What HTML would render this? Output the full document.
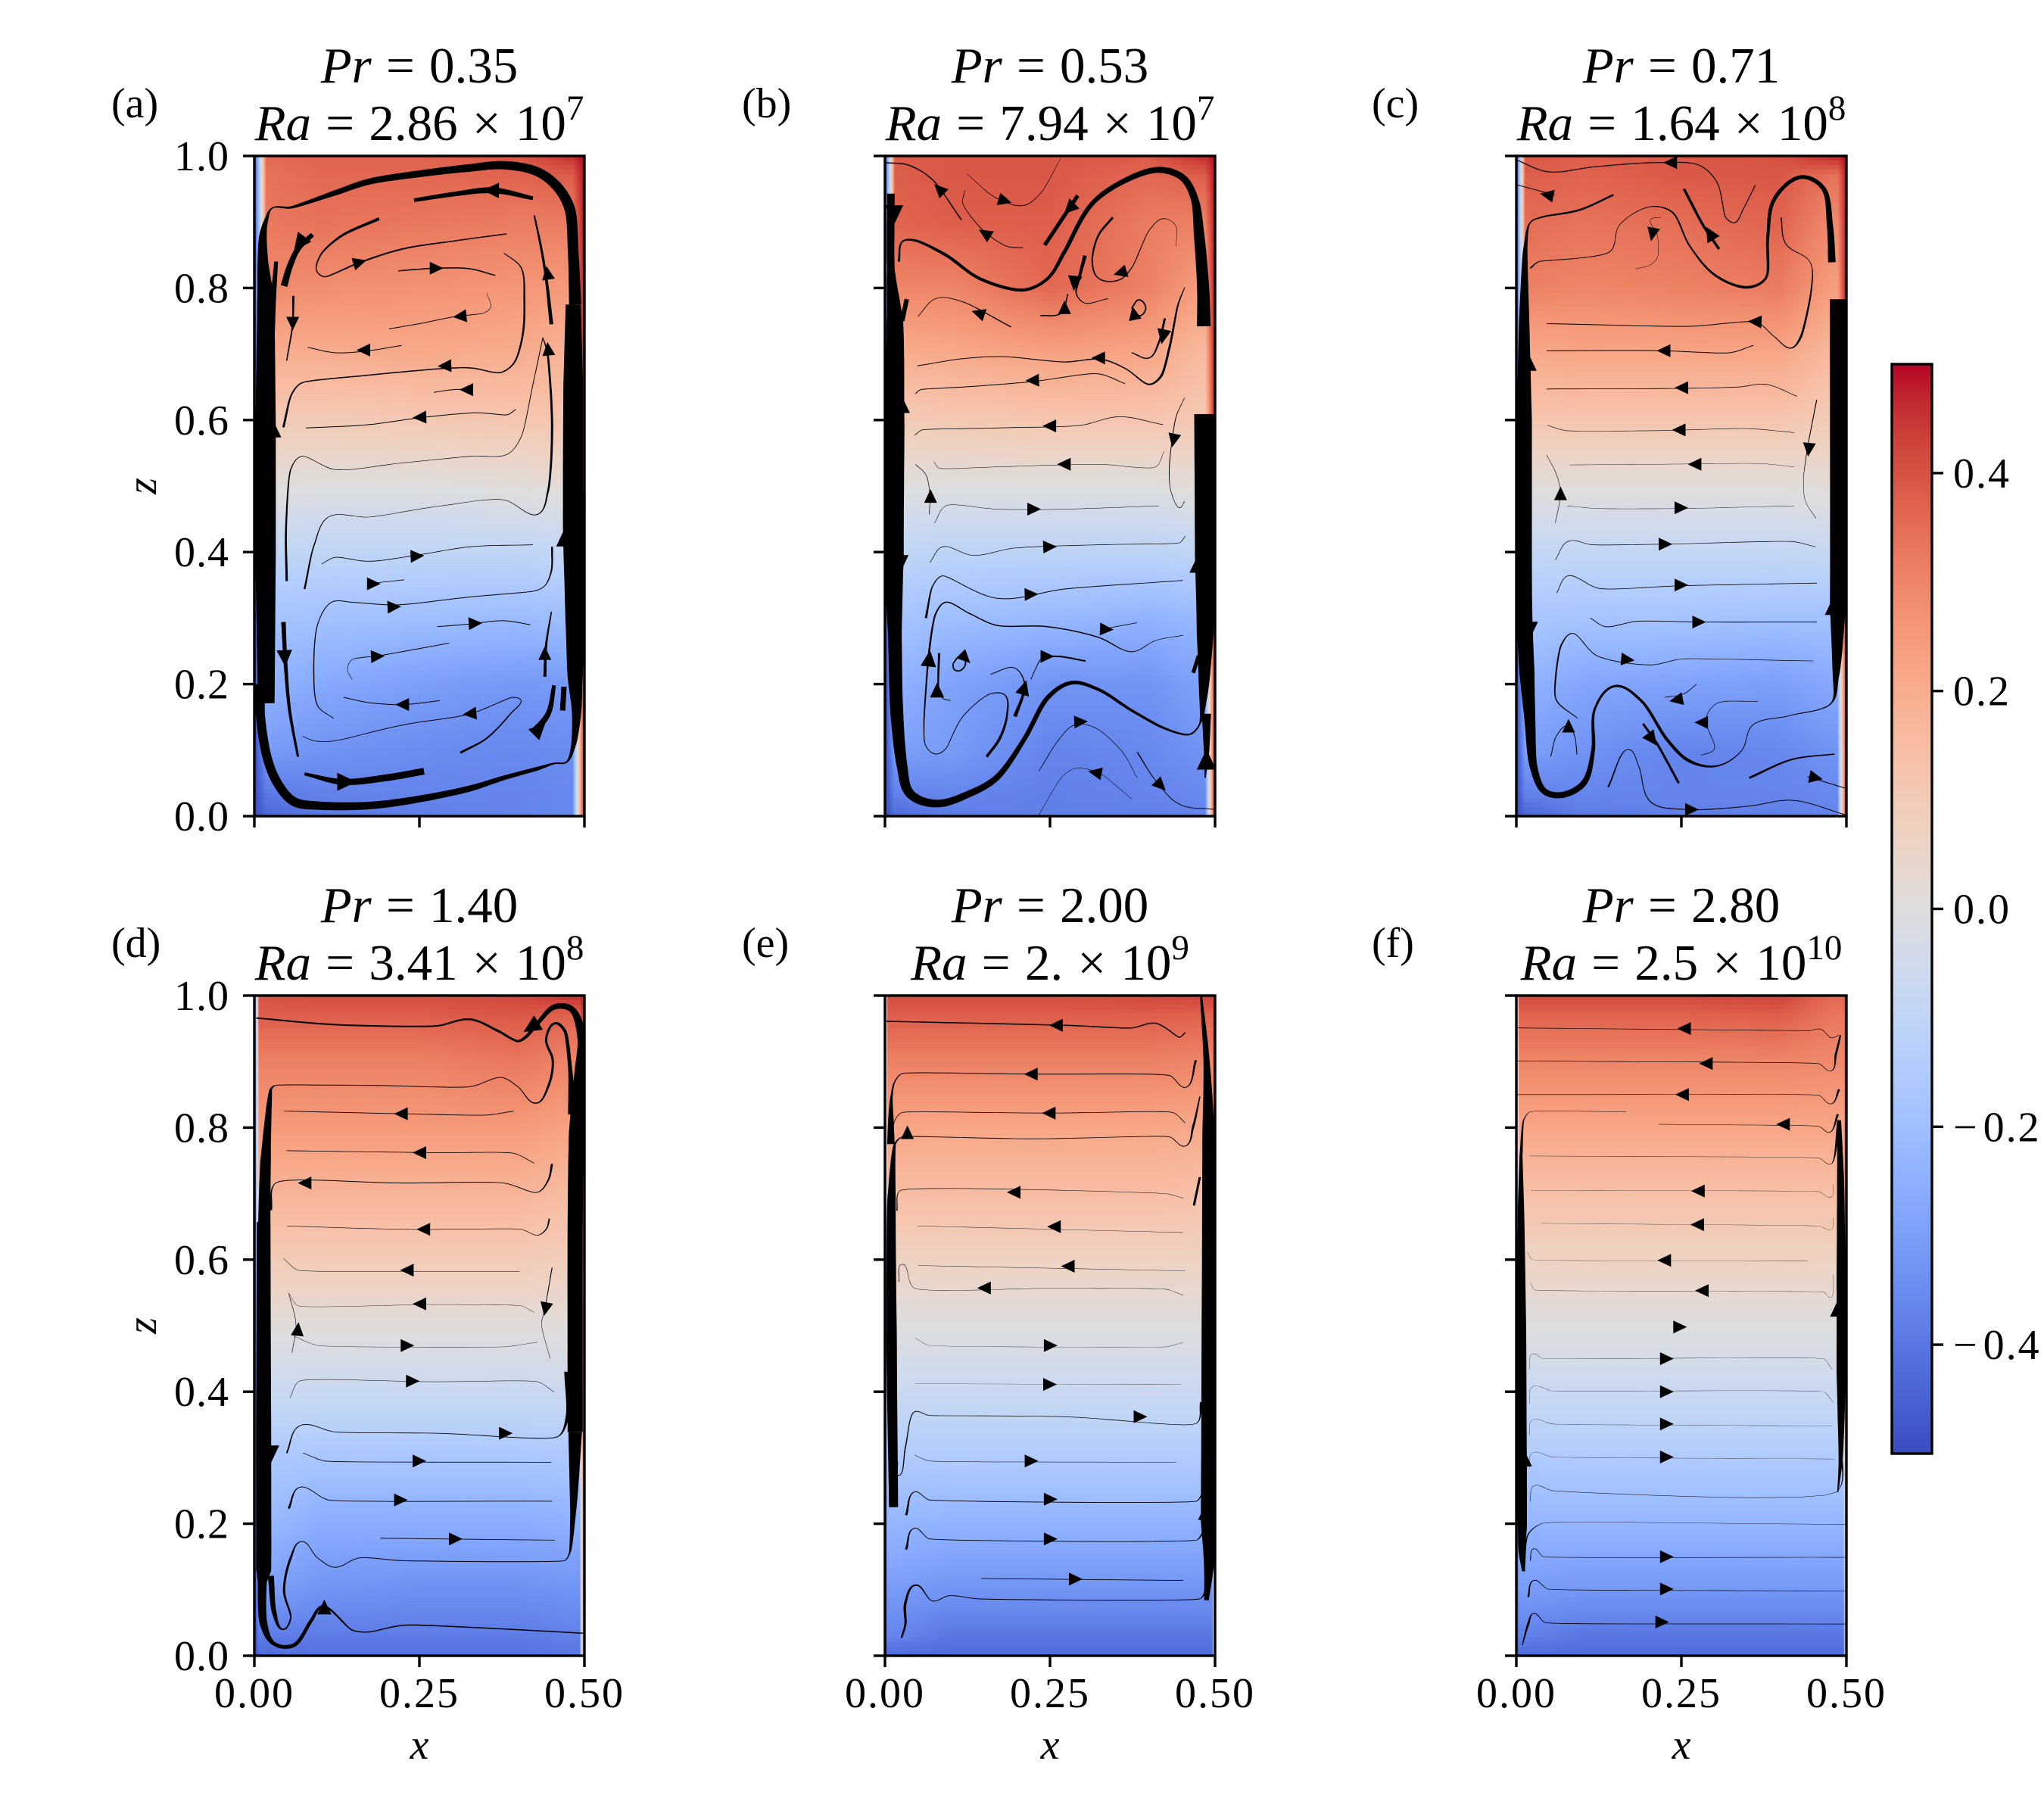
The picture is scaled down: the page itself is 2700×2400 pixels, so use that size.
<!DOCTYPE html>
<html lang="en">
<head>
<meta charset="utf-8">
<title>Temperature fields and streamlines</title>
<style>
html,body{margin:0;padding:0;background:#fff;}
svg{display:block;font-family:"Liberation Serif","Times New Roman",serif;}
text{fill:#000;}
.ttl{font-size:67px;text-anchor:middle;word-spacing:2.5px;}
.ltr{font-size:56px;}
.axl{font-size:56px;font-style:italic;text-anchor:middle;}
.tk{font-size:56px;letter-spacing:2px;}
.tky{font-size:56px;letter-spacing:1px;}
</style>
</head>
<body>
<svg id="figure" xmlns="http://www.w3.org/2000/svg" width="2700" height="2400" viewBox="0 0 2700 2400">
<defs id="defs"></defs>
<g id="panels"></g>
<g id="colorbar"></g>

<text class="ttl" x="554" y="109"><tspan font-style="italic">Pr</tspan> = 0.35</text>
<text class="ttl" x="554" y="185"><tspan font-style="italic">Ra</tspan> = 2.86 × 10<tspan font-size="47" dy="-27">7</tspan></text>
<text class="ttl" x="1387" y="109"><tspan font-style="italic">Pr</tspan> = 0.53</text>
<text class="ttl" x="1387" y="185"><tspan font-style="italic">Ra</tspan> = 7.94 × 10<tspan font-size="47" dy="-27">7</tspan></text>
<text class="ttl" x="2221" y="109"><tspan font-style="italic">Pr</tspan> = 0.71</text>
<text class="ttl" x="2221" y="185"><tspan font-style="italic">Ra</tspan> = 1.64 × 10<tspan font-size="47" dy="-27">8</tspan></text>
<text class="ttl" x="554" y="1218"><tspan font-style="italic">Pr</tspan> = 1.40</text>
<text class="ttl" x="554" y="1294"><tspan font-style="italic">Ra</tspan> = 3.41 × 10<tspan font-size="47" dy="-27">8</tspan></text>
<text class="ttl" x="1387" y="1218"><tspan font-style="italic">Pr</tspan> = 2.00</text>
<text class="ttl" x="1387" y="1294"><tspan font-style="italic">Ra</tspan> = 2. × 10<tspan font-size="47" dy="-27">9</tspan></text>
<text class="ttl" x="2221" y="1218"><tspan font-style="italic">Pr</tspan> = 2.80</text>
<text class="ttl" x="2221" y="1294"><tspan font-style="italic">Ra</tspan> = 2.5 × 10<tspan font-size="47" dy="-27">10</tspan></text>

<text class="ltr" x="147" y="155">(a)</text>
<text class="ltr" x="980" y="155">(b)</text>
<text class="ltr" x="1812" y="155">(c)</text>
<text class="ltr" x="147" y="1264">(d)</text>
<text class="ltr" x="980" y="1264">(e)</text>
<text class="ltr" x="1812" y="1264">(f)</text>

<text class="axl" transform="rotate(-90 206 642)" x="206" y="642">z</text>
<text class="axl" transform="rotate(-90 206 1751)" x="206" y="1751">z</text>
<text class="axl" x="554" y="2323">x</text>
<text class="axl" x="1387" y="2323">x</text>
<text class="axl" x="2221" y="2323">x</text>
</svg>

<script>
/* ---------- tick values and labels ---------- */
const xTicks = [0, 0.25, 0.5];
const xTickLabels = ["0.00", "0.25", "0.50"];
const zTicks = [0, 0.2, 0.4, 0.6, 0.8, 1.0];
const zTickLabels = ["0.0", "0.2", "0.4", "0.6", "0.8", "1.0"];
const cbarTicks = [0.4, 0.2, 0, -0.2, -0.4];
const cbarTickLabels = ["0.4", "0.2", "0.0", "\u22120.2", "\u22120.4"];

/* ---------- temperature samples: rows follow zLevels, columns follow xColumns ---------- */
const xColumns = [0.02, 0.1, 0.25, 0.4, 0.48];
const zLevels = [0, 0.03, 0.1, 0.2, 0.3, 0.4, 0.5, 0.6, 0.7, 0.8, 0.9, 0.97, 1];
const wallLayer = [0.018, 0.015, 0.0135, 0.007, 0.004, 0.004];

const fieldA = [
[-.44,-.40,-.38,-.37,-.36],[-.40,-.38,-.37,-.37,-.36],[-.31,-.33,-.35,-.36,-.35],[-.24,-.27,-.30,-.32,-.31],
[-.18,-.19,-.20,-.21,-.20],[-.10,-.10,-.10,-.10,-.09],[.01,0,0,.01,.02],[.10,.10,.11,.12,.12],
[.20,.20,.21,.20,.18],[.29,.28,.27,.26,.25],[.33,.34,.33,.32,.32],[.34,.36,.36,.37,.38],[.36,.37,.37,.39,.46]];
const fieldB = [
[-.43,-.39,-.38,-.38,-.37],[-.38,-.37,-.38,-.37,-.36],[-.30,-.31,-.37,-.36,-.33],[-.24,-.29,-.33,-.33,-.29],
[-.18,-.20,-.22,-.24,-.22],[-.10,-.11,-.11,-.11,-.10],[0,0,0,0,.02],[.10,.11,.12,.12,.11],
[.20,.21,.23,.22,.16],[.30,.30,.36,.31,.24],[.37,.38,.38,.32,.31],[.38,.39,.39,.36,.38],[.38,.39,.39,.39,.46]];
const fieldC = [
[-.44,-.39,-.38,-.38,-.37],[-.38,-.37,-.37,-.37,-.36],[-.30,-.33,-.37,-.36,-.33],[-.24,-.28,-.29,-.30,-.27],
[-.17,-.18,-.18,-.19,-.19],[-.09,-.09,-.09,-.09,-.08],[.01,.01,.01,.01,.02],[.12,.12,.12,.12,.10],
[.21,.22,.22,.22,.16],[.31,.30,.31,.32,.24],[.35,.34,.35,.37,.29],[.38,.37,.39,.39,.34],[.39,.38,.39,.40,.47]];
const fieldD = [
[-.43,-.41,-.41,-.41,-.40],[-.39,-.39,-.39,-.39,-.38],[-.30,-.33,-.34,-.34,-.33],[-.22,-.26,-.26,-.26,-.25],
[-.16,-.17,-.17,-.17,-.16],[-.07,-.07,-.07,-.07,-.07],[.01,.01,.01,.01,.01],[.10,.10,.10,.10,.09],
[.18,.18,.18,.18,.15],[.25,.25,.25,.25,.23],[.31,.31,.31,.33,.30],[.38,.38,.38,.39,.37],[.40,.41,.41,.42,.46]];
const fieldE = [
[-.43,-.43,-.43,-.43,-.43],[-.37,-.40,-.40,-.40,-.40],[-.31,-.33,-.33,-.33,-.33],[-.23,-.24,-.24,-.24,-.24],
[-.15,-.15,-.15,-.15,-.15],[-.07,-.07,-.07,-.07,-.07],[0,0,0,0,0],[.07,.07,.07,.07,.07],
[.15,.15,.15,.15,.14],[.22,.22,.22,.22,.21],[.31,.31,.31,.31,.30],[.38,.38,.38,.38,.37],[.41,.41,.41,.42,.43]];
const fieldF = [
[-.43,-.43,-.43,-.43,-.43],[-.38,-.40,-.40,-.40,-.40],[-.31,-.32,-.32,-.32,-.32],[-.23,-.23,-.23,-.23,-.23],
[-.15,-.15,-.15,-.15,-.15],[-.07,-.07,-.07,-.07,-.07],[0,0,0,0,0],[.07,.07,.07,.07,.07],
[.14,.14,.14,.14,.14],[.22,.22,.22,.22,.22],[.30,.30,.30,.30,.29],[.37,.37,.37,.38,.33],[.42,.42,.42,.43,.36]];

/* ---------- streamlines: x, z and local speed ---------- */
const linesA = [
{x:[.018,.017,.017,.017,.013,.013,.018,.027,.055,.122,.173,.25,.327,.378,.429,.46,.478,.483,.486],z:[.171,.396,.589,.783,.839,.879,.903,.921,.922,.944,.961,.973,.982,.986,.976,.952,.919,.855,.775],s:[22,27,27,22,14,10,5,1.5,3,7,8,9,10,11,12,13,14,14,16]},
{x:[.483,.483,.483,.486,.486,.488,.483,.473,.455,.429,.378,.327,.25,.173,.096,.06,.035,.019,.009,.009],z:[.775,.654,.436,.3,.211,.155,.106,.082,.08,.072,.058,.042,.026,.016,.016,.022,.05,.09,.155,.2],s:[20,26,27,26,20,12,6,2,2,5,6,8,9,10,11,12,12,12,12,14]},
{x:[.025,.029,.033],z:[.726,.789,.84],s:[10,7,5]},
{x:[.242,.301,.361,.422],z:[.933,.942,.948,.936],s:[5,6,8,5]},
{x:[.189,.132,.101,.094,.106,.158,.224,.301,.382],z:[.905,.879,.851,.827,.817,.838,.859,.871,.882],s:[4,3,2,1.5,1.5,2,2,1.5,1.5]},
{x:[.218,.276,.327,.365],z:[.826,.83,.829,.819],s:1.5},
{x:[.378,.404,.409,.406,.393,.373,.327,.286,.173,.071,.056,.044],z:[.853,.831,.783,.726,.686,.672,.679,.678,.668,.656,.638,.589],s:[1,1.5,2.5,2.5,2,1.5,1.5,1.5,1.5,1.5,2,3]},
{x:[.204,.25,.306,.347,.358,.352],z:[.738,.746,.757,.762,.771,.792],s:[1,1,1,.8,.6,.5]},
{x:[.223,.173,.122,.081],z:[.713,.705,.702,.71],s:1},
{x:[.272,.301,.329],z:[.642,.646,.647],s:1},
{x:[.396,.383,.337,.255,.173,.078],z:[.616,.608,.611,.604,.593,.588],s:1},
{x:[.049,.048,.055,.071,.122,.224,.327,.383,.404,.422,.437],z:[.356,.436,.525,.545,.525,.535,.545,.548,.574,.654,.725],s:[3,2.5,1.5,.8,.7,.7,.7,.7,.8,1,1]},
{x:[.437,.444,.451,.445,.429,.378,.276,.173,.112,.091,.076],z:[.725,.702,.589,.493,.457,.479,.469,.453,.453,.412,.344],s:[1,2.5,3,2.5,1,.6,.6,.6,.8,1.5,2.5]},
{x:[.424,.434,.442,.45],z:[.91,.863,.815,.745],s:[2,3,3.5,5]},
{x:[.088,.066,.053,.045],z:[.881,.859,.831,.803],s:[6,7,8,9]},
{x:[.059,.058,.049],z:[.788,.746,.69],s:[3,2,1.5]},
{x:[.044,.047,.053,.066],z:[.294,.235,.163,.09],s:[6,5,4,3]},
{x:[.076,.132,.199,.257],z:[.064,.052,.058,.068],s:[4,8,9,9]},
{x:[.422,.327,.25,.173,.122,.102],z:[.411,.408,.396,.386,.392,.382],s:.8},
{x:[.171,.227],z:[.352,.358],s:.8},
{x:[.451,.45,.44,.424,.327,.214,.148,.117,.096,.09,.096,.12],z:[.408,.372,.349,.341,.332,.32,.324,.324,.291,.219,.167,.148],s:[2.5,2,1,1,1,1,1,1,1.2,1.5,1.2,.8]},
{x:[.277,.327,.378,.418],z:[.287,.291,.296,.29],s:1},
{x:[.148,.141,.148,.189,.295],z:[.207,.223,.237,.243,.262],s:[.6,.6,.7,1,1]},
{x:[.135,.173,.224,.281],z:[.18,.172,.169,.175],s:1},
{x:[.45,.442,.44],z:[.31,.259,.211],s:[1.5,3,4]},
{x:[.454,.445,.422],z:[.198,.155,.126],s:[5,7,9]},
{x:[.469,.467],z:[.196,.16],s:7},
{x:[.312,.352,.388,.404,.391,.327,.224,.122,.091,.073],z:[.096,.118,.155,.175,.18,.155,.138,.114,.114,.121],s:[3,2,1.5,1,1,1,1,.8,.8,.7]}
];
const arrowsA = [
[.358,.948,-1,.02,1.2],[.16,.839,1,.3,1],[.276,.83,1,0,1],[.311,.757,-1,-.1,1],[.165,.706,-1,0,1],[.321,.646,-1,0,1],[.288,.682,-1,-.03,1],[.25,.604,-1,-.05,1],
[.444,.823,-.15,1,1],[.445,.708,-.1,1,1],[.058,.746,0,-1,1],[.068,.867,-.6,-.8,1.3],[.046,.239,.05,-1,1.2],[.14,.052,1,0,1.4],[.247,.394,1,.05,1],[.181,.352,1,0,1],
[.212,.317,1,.05,1],[.335,.292,1,.05,1],[.187,.242,1,.05,1],[.224,.169,-1,0,1],[.326,.155,-1,-.1,1],[.44,.247,0,1,1],[.432,.132,.7,.7,1.2],[.03,.585,0,1,1.1],[.468,.42,0,1,1.1]
];

const linesB = [
{x:[.009,.009,.015,.014,.013,.015,.018,.026,.038,.077,.128,.169,.21,.246,.282,.323,.374,.426,.462,.477,.482,.485,.485,.484],z:[.943,.828,.747,.589,.396,.276,.155,.075,.034,.019,.034,.058,.115,.179,.202,.192,.16,.132,.124,.14,.178,.274,.396,.609],s:[10,10,22,27,27,18,17,14,12,10,9,8,6,6,5,4,3.5,3,2,2,10,22,27,27]},
{x:[.021,.026,.046,.092,.144,.21,.246,.272,.313,.364,.415,.451,.469,.476,.482,.483],z:[.84,.87,.872,.85,.814,.797,.814,.855,.927,.963,.979,.967,.935,.879,.799,.742],s:[3,2,3,4,4,4,4,5,6,7,8,9,10,14,16,18]},
{x:[.026,.033],z:[.75,.783],s:6},
{x:[0,.036,.072,.116],z:[.99,.986,.964,.903],s:1.5},
{x:[.209,.185,.149,.118,.121],z:[.861,.863,.887,.928,.948],s:[1,1,1,.8,.7]},
{x:[.124,.169,.21,.236,.266],z:[.973,.936,.925,.944,.996],s:[.5,.8,1,.8,.5]},
{x:[.242,.292],z:[.865,.94],s:5},
{x:[.303,.292,.29,.303,.338],z:[.849,.807,.791,.777,.784],s:[5,3,1.5,1,1]},
{x:[.345,.323,.314,.323,.354,.374,.4,.421,.44,.441],z:[.907,.879,.839,.815,.812,.831,.887,.905,.895,.863],s:[3,2.5,2,1.5,1.5,1.2,1,.8,.5,.5]},
{x:[.05,.077,.118,.191],z:[.757,.784,.779,.741],s:[.8,.8,1,1.5]},
{x:[.235,.267,.277],z:[.758,.762,.791],s:1.5},
{x:[.374,.385,.395,.387,.377,.374],z:[.77,.782,.77,.758,.762,.77],s:1.8},
{x:[.424,.415,.4,.374],z:[.754,.718,.694,.702],s:[3,2.5,1.5,1.5]},
{x:[.454,.444,.431,.418,.4,.364,.328,.272,.179,.118,.049],z:[.801,.775,.71,.666,.654,.678,.692,.688,.696,.693,.682],s:[1,2,3,3,2,1.5,1.5,1.2,1,1,1]},
{x:[.364,.323,.221,.118,.054,.046],z:[.655,.67,.658,.65,.646,.64],s:1},
{x:[.454,.441,.431,.433,.446,.454],z:[.634,.605,.533,.493,.467,.477],s:[.7,1,1,.7,.7,.7]},
{x:[.421,.354,.297,.169,.056,.045],z:[.593,.605,.592,.588,.585,.577],s:.8},
{x:[.423,.41,.323,.169,.082,.074],z:[.553,.529,.533,.529,.527,.537],s:.5},
{x:[.046,.062,.068,.067],z:[.533,.517,.485,.457],s:.7},
{x:[.075,.092,.169,.272,.415],z:[.444,.47,.465,.465,.47],s:.5},
{x:[.068,.087,.133,.195,.323,.446,.455],z:[.384,.408,.395,.406,.411,.414,.424],s:.7},
{x:[.062,.072,.087,.169,.272,.451],z:[.3,.348,.364,.33,.344,.357],s:[3,1.5,1,1,1,.8]},
{x:[.382,.328],z:[.293,.283],s:.8},
{x:[.452,.41,.374,.323,.246,.169,.128,.092,.077,.067,.059,.062,.077,.092,.118,.159,.182,.185,.174,.154],z:[.274,.266,.249,.271,.287,.289,.307,.324,.307,.251,.138,.106,.094,.102,.151,.185,.183,.154,.118,.09],s:[.7,.7,1,1.5,1.5,1.5,1.5,1.5,2,2.5,1.5,1,1,1,1,1,1.5,2.5,3.5,3.5]},
{x:[.082,.081,.087,.099],z:[.247,.195,.179,.175],s:[3,2,1,1]},
{x:[.103,.113,.122,.115,.105,.103],z:[.231,.241,.233,.221,.222,.231],s:1.8},
{x:[.304,.262,.238,.228,.221],z:[.235,.242,.239,.223,.207],s:[2,2,1.2,1,1]},
{x:[.16,.195,.21,.21,.197],z:[.215,.225,.207,.187,.151],s:[1,1,1.5,3,5]},
{x:[.233,.262,.287,.318,.359,.382],z:[.068,.114,.138,.134,.098,.058],s:[.8,.8,.8,.7,.7,.6]},
{x:[.233,.267,.287,.323,.374],z:[.002,.058,.072,.066,.026],s:.5},
{x:[.382,.41,.446,.5],z:[.097,.054,.018,.01],s:[1.5,1,1,1]},
{x:[.487,.487,.485],z:[.155,.09,.058],s:[12,6,1.5]},
{x:[.475,.467],z:[.243,.217],s:5}
];
const arrowsB = [
[.082,.95,-.7,.7,1],[.151,.883,-.8,.5,1],[.182,.932,1,-.3,1],[.279,.92,-.7,-.7,1.1],[.287,.807,-.1,-1,1.1],[.356,.823,-1,-.3,1],[.141,.762,-.9,.3,1],[.272,.771,0,1,1],
[.377,.762,-.2,1,1],[.421,.726,-.2,-1,1.1],[.323,.694,-1,0,1],[.223,.66,-1,-.03,1],[.437,.569,-.2,-1,1],[.249,.591,-1,0,1],[.271,.533,-1,0,1],[.069,.485,0,1,1],
[.226,.465,1,0,1],[.25,.408,1,.03,1],[.222,.336,1,.03,1],[.336,.283,1,-.05,1],[.067,.239,.1,1,1.2],[.079,.191,0,1,1.1],[.122,.239,.7,-.7,1],[.246,.242,1,0,1],
[.211,.195,.3,1,1.1],[.297,.143,1,.05,1],[.318,.066,-1,.2,1],[.418,.046,.7,-.7,1],[.487,.086,0,1,1.5],[.014,.911,0,-1,1.4],[.027,.622,0,1,1.1],[.025,.384,0,-1,1.1],[.472,.38,0,1,1.1]
];

const linesC = [
{x:[.147,.095,.041,.021,.014,.012,.012,.012,.016,.02,.026,.042,.069,.102,.116,.119,.149,.189,.229,.263,.304,.341,.358,.413,.477,.484,.487,.487],z:[.941,.918,.908,.899,.863,.775,.6,.316,.219,.155,.075,.038,.032,.05,.098,.163,.197,.175,.115,.083,.076,.099,.138,.152,.171,.211,.316,.783],s:[2.5,2.5,2,1.5,5,12,20,21,20,15,10,8,8,8,5,3,3,3.5,4,4,2,1,1,1,1.5,8,21,21]},
{x:[.021,.034,.142,.156,.202,.236,.263,.303,.35,.378,.381,.391,.431,.465,.475,.478],z:[.83,.84,.855,.895,.923,.915,.863,.818,.801,.815,.879,.935,.968,.951,.895,.839],s:[2,1,1,.8,1,2,2,3,3.5,3,4,5,5,6,8,10]},
{x:[0,.048,.122,.216,.277,.304,.317,.331,.344,.362],z:[.994,.976,.984,.99,.986,.96,.907,.899,.92,.956],s:1.2},
{x:[.002,.058],z:[.956,.941],s:1},
{x:[.254,.283,.307],z:[.95,.895,.859],s:3.5},
{x:[.219,.203,.213,.214,.203,.181],z:[.907,.903,.883,.847,.835,.829],s:.5},
{x:[.401,.408,.445,.447,.431,.416,.391,.364,.263,.046],z:[.907,.867,.839,.799,.726,.709,.726,.748,.742,.746],s:[1.5,1.2,.8,2,3,1.5,1,1,1,1]},
{x:[.359,.324,.216,.046],z:[.713,.702,.705,.705],s:1},
{x:[.425,.378,.337,.25,.046],z:[.636,.654,.65,.648,.647],s:.8},
{x:[.421,.351,.216,.075,.047],z:[.581,.587,.584,.584,.592],s:.6},
{x:[.421,.371,.216,.081],z:[.529,.534,.533,.532],s:.4},
{x:[.046,.061,.067,.059],z:[.547,.517,.489,.444],s:.6},
{x:[.455,.441,.435,.438,.454],z:[.631,.557,.509,.477,.451],s:[1.2,1,.5,.5,.5]},
{x:[.077,.122,.25,.421],z:[.47,.466,.466,.47],s:.4},
{x:[.059,.078,.115,.226,.418,.453],z:[.388,.416,.411,.412,.416,.408],s:.7},
{x:[.061,.078,.125,.25,.455],z:[.338,.364,.345,.349,.353],s:.8},
{x:[.112,.135,.182,.277,.455],z:[.3,.287,.295,.294,.294],s:.9},
{x:[.093,.061,.059,.068,.085,.122,.203,.25,.45],z:[.148,.175,.203,.259,.277,.243,.229,.238,.235],s:[1,1.5,2,2,1,1,.8,.7,.7]},
{x:[.052,.061,.078,.088,.092],z:[.09,.122,.137,.122,.093],s:1},
{x:[.273,.253,.225],z:[.2,.185,.18],s:.8},
{x:[.366,.304,.287,.3,.28],z:[.174,.171,.147,.102,.092],s:.7},
{x:[.192,.213,.246],z:[.14,.11,.05],s:3},
{x:[.139,.169,.186,.203,.256,.351,.418,.499],z:[.044,.101,.074,.022,.01,.015,.024,.002],s:[2,1,1,1.2,1.2,1,1,1]},
{x:[.353,.418,.482],z:[.058,.086,.094],s:[3,2,1.5]},
{x:[.441,.499],z:[.06,.042],s:1}
];
const arrowsC = [
[.233,.99,-1,0,1],[.046,.941,-1,.2,1],[.293,.883,-.5,.85,1.1],[.206,.881,-.2,-1,1],[.361,.749,-1,.05,1],[.223,.705,-1,0,1],[.25,.649,-1,0,1],[.246,.585,-1,0,1],
[.27,.533,-1,0,1],[.067,.489,0,1,1],[.443,.555,-.1,-1,1],[.25,.467,1,0,1],[.226,.412,1,0,1],[.25,.35,1,0,1],[.277,.294,1,0,1],[.169,.237,1,-.1,1],[.079,.137,0,1,1],
[.242,.176,-1,-.2,1],[.28,.142,-1,0,1],[.206,.116,.6,-.8,1.1],[.266,.01,1,0,1],[.454,.058,1,-.2,1],[.02,.686,0,1,1.1],[.022,.283,0,-1,1.1],[.478,.316,0,1,1.1]
];

const linesD = [
{x:[.003,.122,.276,.327,.368,.399,.412,.429,.455,.481,.496,.493,.488,.486,.486],z:[.966,.956,.954,.964,.947,.931,.938,.958,.983,.979,.938,.884,.793,.657,.339],s:[2,2,2,2.5,3,3,4,5,7,8,12,14,20,20,20]},
{x:[.014,.017,.025,.032,.173,.327,.374,.399,.427,.445,.452,.442,.455,.47,.478,.481],z:[.566,.748,.858,.864,.864,.862,.876,.862,.837,.862,.902,.934,.958,.947,.893,.82],s:[18,14,3,1,1,1,1,1,1.5,3,3,3,3,4,5,10]},
{x:[.014,.014,.014,.012,.014,.03,.06,.086,.104,.148,.173,.224,.327,.5],z:[.657,.339,.13,.112,.048,.018,.016,.053,.075,.039,.036,.046,.043,.034],s:[18,20,20,12,10,5,5,4.5,3,1.5,1.5,1.5,1.5,1.5]},
{x:[.025,.03,.043,.055,.045,.055,.071,.096,.122,.158,.224,.47,.478,.483,.486],z:[.121,.066,.04,.057,.098,.148,.173,.148,.134,.148,.144,.144,.157,.221,.339],s:[8,6,2,2,3,3,1,1,1,1,1,1,2,8,18]},
{x:[.045,.224,.352,.393],z:[.825,.821,.819,.825],s:.9},
{x:[.049,.276,.393,.424],z:[.765,.762,.761,.746],s:.8},
{x:[.025,.032,.224,.378,.429,.445,.451],z:[.675,.716,.716,.716,.702,.72,.745],s:[3,1,1,1,1,2,3]},
{x:[.05,.224,.404,.429,.442,.447],z:[.651,.646,.646,.637,.646,.662],s:[.6,.6,.6,.8,1.5,2]},
{x:[.044,.066,.402],z:[.602,.584,.582],s:.5},
{x:[.052,.066,.276,.404,.424],z:[.549,.53,.532,.53,.52],s:.4},
{x:[.052,.063,.057],z:[.549,.502,.459],s:.6},
{x:[.451,.44,.435,.448],z:[.588,.525,.502,.45],s:[1.2,.8,.5,.5]},
{x:[.06,.096,.378,.429],z:[.484,.47,.468,.475],s:.4},
{x:[.054,.068,.276,.429,.455],z:[.391,.416,.415,.415,.399],s:.5},
{x:[.049,.068,.122,.276,.46,.475,.478],z:[.307,.348,.339,.337,.332,.366,.43],s:[2,1,.8,.8,1,5,15]},
{x:[.074,.107,.45],z:[.307,.295,.293],s:.8},
{x:[.052,.068,.112,.451],z:[.223,.255,.236,.234],s:[3,1,.9,.9]},
{x:[.191,.455],z:[.178,.175],s:.9}
];
const arrowsD = [
[.222,.821,-1,0,1],[.25,.762,-1,0,1],[.076,.716,-1,0,1],[.256,.646,-1,0,1],[.231,.584,-1,0,1],[.25,.533,-1,0,1],[.066,.495,.1,1,1],[.441,.525,-.2,-1,1],
[.232,.47,1,0,1],[.24,.416,1,0,1],[.381,.337,1,0,1],[.25,.295,1,0,1],[.222,.236,1,0,1],[.305,.177,1,0,1],[.106,.074,0,1,1.1],[.419,.952,-.8,-.5,1.3],[.022,.302,0,-1,1.6]
];

const linesE = [
{x:[.002,.272,.374,.41,.446,.455],z:[.961,.955,.951,.958,.937,.944],s:1.5},
{x:[.471,.456,.431,.221,.026,.015,.01,.009,.009],z:[.902,.861,.879,.881,.882,.87,.847,.815,.775],s:[3,1,1,1,1,1.5,3,7,10]},
{x:[.455,.436,.246,.026,.015,.01],z:[.807,.823,.822,.823,.811,.784],s:.8},
{x:[.477,.467,.455,.431,.221,.026,.015,.01,.01,.013],z:[.847,.802,.772,.786,.783,.786,.775,.693,.475,.225],s:[1.5,3,1,.9,.8,1,2.5,11,14,12]},
{x:[.479,.487,.49,.491,.49,.491,.487],z:[.998,.903,.794,.475,.203,.143,.084],s:[3,8,16,20,20,14,6]},
{x:[.013,.021,.031,.044,.067,.272,.472,.479],z:[.293,.273,.316,.369,.364,.362,.352,.384],s:[12,1,1.5,1,.7,.7,.8,3]},
{x:[.021,.026,.044,.272,.426,.452],z:[.566,.593,.557,.557,.555,.546],s:[.8,.6,.5,.4,.4,.4]},
{x:[.018,.023,.426,.452],z:[.674,.705,.7,.693],s:[1.5,.7,.5,.5]},
{x:[.049,.451],z:[.651,.641],s:.4},
{x:[.05,.455],z:[.591,.583],s:.4},
{x:[.046,.067,.426,.452],z:[.481,.47,.468,.475],s:.3},
{x:[.046,.449],z:[.412,.411],s:.3},
{x:[.045,.067,.441],z:[.304,.295,.293],s:.5},
{x:[.032,.044,.067,.472,.482,.485],z:[.213,.248,.236,.234,.252,.293],s:[3,1,.9,.9,2,8]},
{x:[.032,.044,.067,.472,.485],z:[.161,.193,.177,.175,.193],s:[3,1,.9,.9,3]},
{x:[.146,.452],z:[.117,.114],s:.9},
{x:[.025,.031,.031,.046,.072,.097,.144,.477,.487,.492],z:[.027,.048,.08,.107,.083,.091,.086,.086,.103,.139],s:[2,3,3.5,2,1,1,1,1,3,10]},
{x:[.468,.477],z:[.682,.725],s:3}
];
const arrowsE = [
[.259,.955,-1,0,1],[.221,.881,-1,0,1],[.248,.822,-1,0,1],[.034,.793,0,1,1],[.195,.702,-1,0,1],[.256,.65,-1,0,1],[.277,.59,-1,0,1],[.15,.557,-1,0,1],
[.251,.47,1,0,1],[.25,.411,1,0,1],[.387,.362,1,0,1],[.222,.295,1,0,1],[.251,.237,1,0,1],[.251,.177,1,0,1],[.289,.116,1,0,1],[.484,.216,0,1,1]
];

const linesF = [
{x:[0,.444,.461,.477,.489],z:[.951,.947,.949,.936,.94],s:.7},
{x:[0,.458,.477,.484,.491],z:[.901,.897,.886,.911,.94],s:[.7,.7,.7,3,2]},
{x:[0,.458,.477,.489],z:[.85,.849,.836,.858],s:[.6,.6,.8,3]},
{x:[.166,.021,.011,.007],z:[.824,.824,.811,.757],s:[.5,.5,1.5,4]},
{x:[.216,.458,.475,.487],z:[.805,.802,.793,.82],s:[.5,.6,.8,3]},
{x:[.02,.458,.477,.489],z:[.757,.754,.745,.811],s:[.4,.4,.6,5]},
{x:[.022,.458,.477,.48],z:[.705,.703,.695,.714],s:.3},
{x:[.038,.458,.477,.48],z:[.655,.651,.646,.663],s:.3},
{x:[.017,.024,.441],z:[.611,.6,.598],s:.3},
{x:[.021,.028,.465,.477,.48],z:[.566,.554,.551,.543,.577],s:.3},
{x:[.02,.024,.041,.465,.478],z:[.434,.457,.45,.45,.434],s:.3},
{x:[.02,.024,.055,.465,.48],z:[.382,.407,.401,.4,.384],s:.3},
{x:[.02,.024,.055,.478],z:[.334,.357,.351,.348],s:.3},
{x:[.02,.024,.055,.482],z:[.284,.307,.301,.298],s:.3},
{x:[.021,.026,.055,.485,.492],z:[.234,.257,.25,.248,.321],s:[.5,.5,.5,.5,3]},
{x:[.011,.018,.041,.499],z:[.128,.184,.201,.199],s:[3,1.5,.4,.4]},
{x:[.021,.026,.041,.499],z:[.144,.162,.15,.149],s:[1,.8,.6,.6]},
{x:[.018,.026,.048,.499],z:[.089,.114,.101,.098],s:[2.5,1,.7,.6]},
{x:[.009,.018,.026,.044,.499],z:[.016,.048,.064,.05,.048],s:[1.2,3,1,.9,.7]},
{x:[.007,.007,.008,.008,.009,.008,.011],z:[.757,.684,.493,.293,.193,.157,.128],s:[4,8,12,14,12,8,4]},
{x:[.489,.491,.492,.492,.492,.491,.487],z:[.811,.729,.566,.43,.357,.293,.248],s:[5,9,12,12,9,5,1.5]}
];
const arrowsF = [
[.254,.95,-1,0,1],[.287,.897,-1,0,1],[.251,.85,-1,0,1],[.404,.805,-1,0,1],[.275,.704,-1,0,1],[.274,.653,-1,0,1],[.224,.599,-1,0,1],[.281,.553,-1,0,1],
[.248,.498,1,0,1],[.228,.45,1,0,1],[.228,.4,1,0,1],[.228,.351,1,0,1],[.228,.301,1,0,1],[.228,.15,1,0,1],[.228,.101,1,0,1],[.221,.051,1,0,1],[.013,.298,0,1,1.1],[.486,.525,0,1,1.1]
];

/* ---------- coolwarm colour map ---------- */
const coolwarm = [[59,76,192],[68,90,204],[77,104,215],[87,117,225],[98,130,234],[108,142,241],[119,154,247],[130,165,251],[141,176,254],[152,185,255],[163,194,255],[174,201,253],[184,208,249],[194,213,244],[204,217,238],[213,219,230],[221,221,221],[229,216,209],[236,211,197],[241,204,185],[245,196,173],[247,187,160],[247,177,148],[247,166,135],[244,154,123],[241,141,111],[236,127,99],[229,112,88],[222,96,77],[213,80,66],[203,62,56],[192,40,47],[180,4,38]];

const NS = "http://www.w3.org/2000/svg";
const defs = document.getElementById("defs");
const panelsRoot = document.getElementById("panels");
const cbarRoot = document.getElementById("colorbar");

function mk(tag, attrs, parent){
  const el = document.createElementNS(NS, tag);
  for (const k in attrs) el.setAttribute(k, attrs[k]);
  if (parent) parent.appendChild(el);
  return el;
}
function colorOf(t){
  const u = Math.max(0, Math.min(1, t + 0.5)) * (coolwarm.length - 1);
  const i = Math.min(coolwarm.length - 2, Math.floor(u));
  const f = u - i;
  const c = coolwarm[i].map((v, j) => Math.round(v + (coolwarm[i + 1][j] - v) * f));
  return "rgb(" + c.join(",") + ")";
}
function bracket(arr, v){
  if (v <= arr[0]) return [0, 0, 0];
  for (let i = 0; i < arr.length - 1; i++) {
    if (v <= arr[i + 1]) return [i, i + 1, (v - arr[i]) / (arr[i + 1] - arr[i])];
  }
  return [arr.length - 1, arr.length - 1, 0];
}
function fieldAt(field, wall, x, z){
  const [r0, r1, rf] = bracket(zLevels, z);
  const [c0, c1, cf] = bracket(xColumns, x);
  const a = field[r0][c0] + (field[r0][c1] - field[r0][c0]) * cf;
  const b = field[r1][c0] + (field[r1][c1] - field[r1][c0]) * cf;
  const core = a + (b - a) * rf;
  if (x < wall) return -0.5 + (core + 0.5) * (x / wall);
  if (x > 0.5 - wall) return 0.5 + (core - 0.5) * ((0.5 - x) / wall);
  return core;
}
function stopPositions(wall){
  const xs = [];
  for (let i = 0; i <= 8; i++) xs.push(wall * i / 8);
  const inner = [0.02, 0.06, 0.1, 0.175, 0.25, 0.325, 0.4, 0.44, 0.48];
  for (const v of inner) if (v > wall && v < 0.5 - wall) xs.push(v);
  for (let i = 8; i >= 0; i--) xs.push(0.5 - wall * i / 8);
  return xs;
}
function unit(dx, dy){
  const len = Math.hypot(dx, dy) || 1;
  return {x: dx / len, y: dy / len};
}
function ribbonPath(line, xScale, zScale){
  const n = line.x.length;
  const P = [];
  for (let i = 0; i < n; i++) {
    const sp = Array.isArray(line.s) ? line.s[Math.min(i, line.s.length - 1)] : line.s;
    P.push({x: xScale(line.x[i]), y: zScale(line.z[i]), w: sp});
  }
  /* tangent directions that do not let a long neighbouring span dominate */
  const T = P.map(function(p, i){
    const a = i > 0 ? unit(p.x - P[i - 1].x, p.y - P[i - 1].y) : null;
    const b = i < n - 1 ? unit(P[i + 1].x - p.x, P[i + 1].y - p.y) : null;
    if (!a) return b;
    if (!b) return a;
    return unit(a.x + b.x, a.y + b.y);
  });
  const dist = (i) => (i >= 0 && i < n - 1) ? Math.hypot(P[i + 1].x - P[i].x, P[i + 1].y - P[i].y) : Infinity;
  const pts = [];
  const sub = n > 2 ? 10 : 1;
  for (let i = 0; i < n - 1; i++) {
    const p1 = P[i], p2 = P[i + 1];
    const d = dist(i);
    /* a long span next to a short one stays nearly straight instead of bowing */
    const m1 = Math.min(d, 1.2 * dist(i - 1));
    const m2 = Math.min(d, 1.2 * dist(i + 1));
    for (let k = 0; k < sub; k++) {
      const t = k / sub, t2 = t * t, t3 = t2 * t;
      const h00 = 2 * t3 - 3 * t2 + 1, h10 = t3 - 2 * t2 + t, h01 = -2 * t3 + 3 * t2, h11 = t3 - t2;
      pts.push({
        x: h00 * p1.x + h10 * m1 * T[i].x + h01 * p2.x + h11 * m2 * T[i + 1].x,
        y: h00 * p1.y + h10 * m1 * T[i].y + h01 * p2.y + h11 * m2 * T[i + 1].y,
        w: p1.w + (p2.w - p1.w) * t
      });
    }
  }
  pts.push(P[n - 1]);
  const L = [], R = [];
  for (let i = 0; i < pts.length; i++) {
    const a = pts[Math.max(0, i - 1)], b = pts[Math.min(pts.length - 1, i + 1)];
    const u = unit(b.x - a.x, b.y - a.y);
    const h = pts[i].w / 2;
    L.push((pts[i].x - u.y * h).toFixed(1) + " " + (pts[i].y + u.x * h).toFixed(1));
    R.push((pts[i].x + u.y * h).toFixed(1) + " " + (pts[i].y - u.x * h).toFixed(1));
  }
  return "M" + L.join("L") + "L" + R.reverse().join("L") + "Z";
}

const panelSpecs = [
  {id:"a", left:336,  top:206,  field:fieldA, lines:linesA, arrows:arrowsA, wall:wallLayer[0], yl:true,  xl:false},
  {id:"b", left:1169, top:206,  field:fieldB, lines:linesB, arrows:arrowsB, wall:wallLayer[1], yl:false, xl:false},
  {id:"c", left:2003, top:206,  field:fieldC, lines:linesC, arrows:arrowsC, wall:wallLayer[2], yl:false, xl:false},
  {id:"d", left:336,  top:1315, field:fieldD, lines:linesD, arrows:arrowsD, wall:wallLayer[3], yl:true,  xl:true},
  {id:"e", left:1169, top:1315, field:fieldE, lines:linesE, arrows:arrowsE, wall:wallLayer[4], yl:false, xl:true},
  {id:"f", left:2003, top:1315, field:fieldF, lines:linesF, arrows:arrowsF, wall:wallLayer[5], yl:false, xl:true}
];
const PW = 436, PH = 872, ROWS = 145;

panelSpecs.forEach(function(p){
  const xScale = v => p.left + v / 0.5 * PW;
  const zScale = v => p.top + (1 - v) * PH;

  const g = mk("g", {}, panelsRoot);
  
  

  const clip = mk("clipPath", {id:"clip-" + p.id}, defs);
  mk("rect", {x:p.left, y:p.top, width:PW, height:PH}, clip);

  const heat = mk("g", {"clip-path":"url(#clip-" + p.id + ")"}, g);
  
  
  const xs = stopPositions(p.wall);
  for (let k = ROWS - 1; k >= 0; k--) {
    const z0 = k / ROWS, z1 = (k + 1) / ROWS, zc = (z0 + z1) / 2;
    const gid = "g" + p.id + k;
    const lg = mk("linearGradient", {id:gid, gradientUnits:"userSpaceOnUse", x1:xScale(0), x2:xScale(0.5), y1:0, y2:0}, defs);
    xs.forEach(function(x){
      mk("stop", {offset:(x / 0.5).toFixed(4), "stop-color":colorOf(fieldAt(p.field, p.wall, x, zc))}, lg);
    });
    const cell = mk("rect", {x:xScale(0), y:zScale(z1).toFixed(2), width:PW, height:(zScale(z0) - zScale(z1) + 0.7).toFixed(2), fill:"url(#" + gid + ")"}, heat);
    
    
  }

  const flow = mk("g", {"clip-path":"url(#clip-" + p.id + ")", fill:"#000"}, g);
  
  
  p.lines.forEach(function(line){
    const path = mk("path", {d:ribbonPath(line, xScale, zScale)}, flow);
    
    
  });
  p.arrows.forEach(function(a){
    const cx = xScale(a[0]), cy = zScale(a[1]);
    const len = Math.hypot(a[2], a[3]) || 1;
    const ux = a[2] / len, uy = -a[3] / len;
    const hl = 9 * a[4], hw = 8.5 * a[4];
    const pts = [
      [cx + ux * hl, cy + uy * hl],
      [cx - ux * hl - uy * hw, cy - uy * hl + ux * hw],
      [cx - ux * hl + uy * hw, cy - uy * hl - ux * hw]
    ].map(q => q[0].toFixed(1) + "," + q[1].toFixed(1)).join(" ");
    const tri = mk("polygon", {points:pts}, flow);
    
    
  });

  const frame = mk("rect", {x:p.left, y:p.top, width:PW, height:PH, fill:"none", stroke:"#000", "stroke-width":3.4}, g);
  
  

  zTicks.forEach(function(v, i){
    const y = zScale(v);
    const t = mk("line", {x1:p.left, x2:p.left - 15, y1:y, y2:y, stroke:"#000", "stroke-width":3.4}, g);
    
    
    if (p.yl) {
      const tx = mk("text", {class:"tky", x:p.left - 33, y:y + 19, "text-anchor":"end"}, g);
      tx.textContent = zTickLabels[i];
      
      
    }
  });
  xTicks.forEach(function(v, i){
    const x = xScale(v), b = zScale(0);
    const t = mk("line", {x1:x, x2:x, y1:b, y2:b + 15, stroke:"#000", "stroke-width":3.4}, g);
    
    
    if (p.xl) {
      const tx = mk("text", {class:"tk", x:x, y:b + 68, "text-anchor":"middle"}, g);
      tx.textContent = xTickLabels[i];
      
      
    }
  });
});

/* ---------- colour bar ---------- */
(function(){
  const left = 2499, width = 53, top = 481, bottom = 1920;
  const cScale = v => bottom - (v + 0.5) * (bottom - top);
  const lg = mk("linearGradient", {id:"cbar-grad", x1:0, x2:0, y1:1, y2:0}, defs);
  coolwarm.forEach(function(c, i){
    mk("stop", {offset:(i / (coolwarm.length - 1)).toFixed(4), "stop-color":"rgb(" + c.join(",") + ")"}, lg);
  });
  const bar = mk("rect", {x:left, y:top, width:width, height:bottom - top, fill:"url(#cbar-grad)", stroke:"#000", "stroke-width":3.4}, cbarRoot);
  
  
  cbarTicks.forEach(function(v, i){
    const y = cScale(v);
    const t = mk("line", {x1:left + width, x2:left + width + 15, y1:y, y2:y, stroke:"#000", "stroke-width":3.4}, cbarRoot);
    
    
    const tx = mk("text", {class:"tk", x:2580, y:y + 19}, cbarRoot);
    tx.textContent = cbarTickLabels[i];
    if (v < 0) tx.setAttribute("dx", "0 6");
    
    
  });
})();
</script>
</body>
</html>
